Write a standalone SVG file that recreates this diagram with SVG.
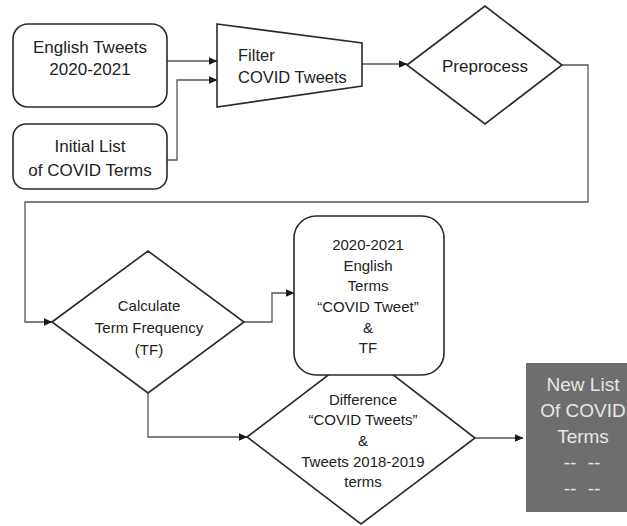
<svg xmlns="http://www.w3.org/2000/svg" width="627" height="526" viewBox="0 0 627 526">
<defs>
<marker id="ah" markerWidth="9" markerHeight="8" refX="8.5" refY="4" orient="auto" markerUnits="userSpaceOnUse">
<path d="M0,0 L9,4 L0,8 Z" fill="#1a1a1a"/>
</marker>
<style>
.shape{fill:#fff;stroke:#2a2a2a;stroke-width:1.6}
.conn{fill:none;stroke:#555;stroke-width:1.3;marker-end:url(#ah)}
.t{font-family:"Liberation Sans",Arial,sans-serif;fill:#222;text-anchor:middle}
.t17{font-size:17px}
.t15{font-size:15px}
.w{font-family:"Liberation Sans",Arial,sans-serif;fill:#e6e6e6;text-anchor:middle;font-size:19px}
</style>
</defs>
<rect width="627" height="526" fill="#fff"/>

<g id="connectors">
<path class="conn" d="M167,61 H217"/>
<path class="conn" d="M167,160 H177 V80 H217"/>
<path class="conn" d="M362,64 H407"/>
<path class="conn" d="M562,65 H588 V202 H25 V322 H52"/>
<path class="conn" d="M244,322 H272 V293 H294"/>
<path class="conn" d="M148,393 V437 H247"/>
<path class="conn" d="M475,438 H523"/>
</g>

<g id="english-tweets">
<rect class="shape" x="13" y="24" width="154" height="83" rx="15"/>
<text class="t t17" x="90" y="53">English Tweets</text>
<text class="t t17" x="90" y="75">2020-2021</text>
</g>

<g id="initial-list">
<rect class="shape" x="13" y="124" width="154" height="65" rx="13"/>
<text class="t t17" x="90" y="152">Initial List</text>
<text class="t t17" x="90" y="176">of COVID Terms</text>
</g>

<g id="filter">
<polygon class="shape" points="217,24 362,43 362,86 217,107"/>
<text class="t" style="text-anchor:start;font-size:16.5px" x="238" y="61">Filter</text>
<text class="t" style="text-anchor:start;font-size:16.5px" x="238" y="83">COVID Tweets</text>
</g>

<g id="preprocess">
<polygon class="shape" points="407,65 485,6 562,65 485,124"/>
<text class="t t17" x="485" y="72">Preprocess</text>
</g>

<g id="calculate-tf">
<polygon class="shape" points="52,322 148,251 244,322 148,393"/>
<text class="t t15" x="149" y="311">Calculate</text>
<text class="t t15" x="149" y="333">Term Frequency</text>
<text class="t t15" x="149" y="355">(TF)</text>
</g>

<g id="difference">
<polygon class="shape" points="247,437 361,350 475,438 361,524"/>
<text class="t t15" x="363" y="405">Difference</text>
<text class="t t15" x="363" y="425">“COVID Tweets”</text>
<text class="t t15" x="363" y="446">&amp;</text>
<text class="t t15" x="363" y="467">Tweets 2018-2019</text>
<text class="t t15" x="363" y="487">terms</text>
</g>

<g id="terms-tf">
<rect class="shape" x="294" y="216" width="150" height="159" rx="22"/>
<text class="t t15" x="368" y="250">2020-2021</text>
<text class="t t15" x="368" y="271">English</text>
<text class="t t15" x="368" y="291">Terms</text>
<text class="t t15" x="368" y="312">“COVID Tweet”</text>
<text class="t t15" x="368" y="333">&amp;</text>
<text class="t t15" x="368" y="353">TF</text>
</g>

<g id="new-list">
<rect x="526" y="363" width="101" height="149" fill="#6e6e6e"/>
<text class="w" x="583" y="391">New List</text>
<text class="w" x="583" y="417">Of COVID</text>
<text class="w" x="583" y="443">Terms</text>
<text class="w" x="570" y="469">--</text>
<text class="w" x="594" y="469">--</text>
<text class="w" x="570" y="495">--</text>
<text class="w" x="594" y="495">--</text>
</g>
</svg>
